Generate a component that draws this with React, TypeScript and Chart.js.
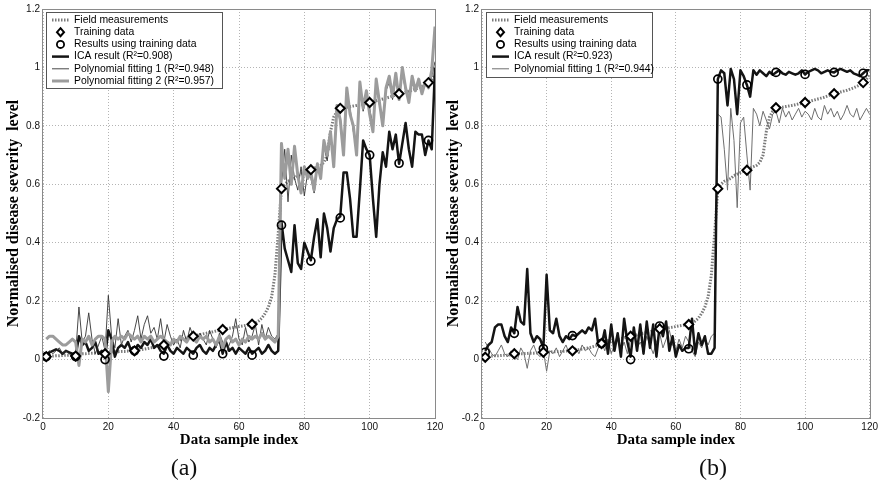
import React, { useEffect, useRef } from 'react';
import Chart from 'chart.js/auto';

// ---------- data ----------
const xTickValues = [0, 20, 40, 60, 80, 100, 120];
const yTickValues = [-0.2, 0, 0.2, 0.4, 0.6, 0.8, 1, 1.2];

const trainingIndex = [1, 10, 19, 28, 37, 46, 55, 64, 73, 82, 91, 100, 109, 118];

const fieldMeasurements = [
  0.010, 0.011, 0.012, 0.013, 0.013, 0.014, 0.015, 0.015, 0.016, 0.018,
  0.019, 0.020, 0.020, 0.021, 0.022, 0.022, 0.023, 0.024, 0.025, 0.026,
  0.026, 0.027, 0.027, 0.028, 0.028, 0.029, 0.029, 0.030, 0.032, 0.034,
  0.036, 0.038, 0.040, 0.043, 0.046, 0.050, 0.053, 0.056, 0.059, 0.062,
  0.065, 0.068, 0.071, 0.074, 0.077, 0.080, 0.083, 0.085, 0.088, 0.090,
  0.093, 0.095, 0.098, 0.100, 0.103, 0.105, 0.107, 0.109, 0.111, 0.113,
  0.115, 0.117, 0.119, 0.121, 0.125, 0.132, 0.142, 0.158, 0.180, 0.215,
  0.290, 0.430, 0.585, 0.600, 0.610, 0.615, 0.620, 0.630, 0.635, 0.640,
  0.645, 0.650, 0.655, 0.660, 0.665, 0.675, 0.700, 0.780, 0.830, 0.850,
  0.860, 0.862, 0.864, 0.866, 0.868, 0.870, 0.872, 0.875, 0.877, 0.880,
  0.883, 0.886, 0.889, 0.892, 0.895, 0.898, 0.902, 0.906, 0.910, 0.913,
  0.916, 0.919, 0.922, 0.926, 0.930, 0.935, 0.940, 0.948, 0.960, 0.975,
];

// (a)
const icaA = [
  0.010, 0.025, 0.030, 0.035, 0.030, 0.020, 0.030, 0.025, 0.020, 0.010,
  0.080, 0.050, 0.060, 0.030, 0.040, 0.060, 0.020, 0.030, 0.010, 0.100,
  0.070, 0.010, 0.040, 0.050, 0.040, 0.060, 0.030, 0.030, 0.050, 0.040,
  0.060, 0.050, 0.070, 0.040, 0.050, 0.030, 0.020, 0.050, 0.030, 0.020,
  0.040, 0.030, 0.020, 0.040, 0.030, 0.020, 0.040, 0.050, 0.030, 0.020,
  0.040, 0.030, 0.050, 0.070, 0.020, 0.060, 0.030, 0.040, 0.020, 0.040,
  0.030, 0.020, 0.040, 0.020, 0.030, 0.040, 0.020, 0.030, 0.050, 0.030,
  0.020, 0.030, 0.470, 0.380, 0.340, 0.300, 0.460, 0.330, 0.310, 0.400,
  0.370, 0.340, 0.420, 0.480, 0.350, 0.500, 0.450, 0.370, 0.450, 0.480,
  0.490, 0.640, 0.640, 0.550, 0.420, 0.420, 0.580, 0.750, 0.720, 0.700,
  0.550, 0.420, 0.600, 0.710, 0.660, 0.780, 0.720, 0.770, 0.670, 0.740,
  0.810, 0.720, 0.660, 0.780, 0.770, 0.770, 0.700, 0.750, 0.720, 1.000,
];
const poly1A = [
  0.020, 0.030, 0.020, 0.030, 0.040, 0.020, 0.030, 0.020, 0.010, 0.020,
  0.180, 0.060, 0.080, 0.160, 0.070, 0.020, 0.050, 0.080, 0.030, 0.220,
  0.080, 0.040, 0.140, 0.050, 0.080, 0.100, 0.060, 0.100, 0.150, 0.070,
  0.120, 0.150, 0.090, 0.110, 0.070, 0.140, 0.060, 0.120, 0.080, 0.050,
  0.070, 0.040, 0.100, 0.060, 0.110, 0.080, 0.060, 0.090, 0.070, 0.050,
  0.100, 0.070, 0.040, 0.090, 0.060, 0.020, 0.050, 0.080, 0.140, 0.070,
  0.050, 0.110, 0.060, 0.080, 0.120, 0.050, 0.120, 0.070, 0.110, 0.080,
  0.070, 0.090, 0.600, 0.720, 0.540, 0.700, 0.620, 0.580, 0.660, 0.560,
  0.640, 0.620, 0.570, 0.660, 0.630, 0.730, 0.680, 0.760, 0.700, 0.850,
  0.830, 0.720, 0.900, 0.860, 0.780, 0.720, 0.920, 0.850, 0.900, 0.860,
  0.800, 0.940, 0.870, 0.820, 0.920, 0.950, 0.890, 0.960, 0.900, 0.980,
  0.920, 0.890, 0.950, 0.930, 0.940, 0.920, 0.940, 0.930, 0.970, 1.020,
];
const poly2A = [
  0.070, 0.080, 0.080, 0.070, 0.060, 0.050, 0.050, 0.060, 0.070, 0.060,
  -0.020, 0.070, 0.060, 0.080, 0.050, 0.070, 0.080, 0.080, 0.070, -0.110,
  0.060, 0.080, 0.070, 0.080, 0.070, 0.090, 0.080, 0.070, 0.080, 0.060,
  0.080, 0.070, 0.080, 0.060, 0.070, 0.080, 0.070, 0.060, 0.050, 0.070,
  0.060, 0.080, 0.070, 0.060, 0.080, 0.070, 0.060, 0.080, 0.070, 0.080,
  0.060, 0.070, 0.050, 0.080, 0.040, 0.070, 0.080, 0.060, 0.070, 0.050,
  0.070, 0.060, 0.080, 0.070, 0.080, 0.070, 0.090, 0.070, 0.080, 0.070,
  0.060, 0.080, 0.740, 0.620, 0.720, 0.600, 0.730, 0.630, 0.570, 0.660,
  0.620, 0.640, 0.580, 0.670, 0.620, 0.750, 0.700, 0.780, 0.660, 0.870,
  0.820, 0.700, 0.930, 0.840, 0.800, 0.700, 0.950, 0.860, 0.920, 0.840,
  0.780, 0.960, 0.880, 0.800, 0.930, 0.970, 0.900, 0.980, 0.890, 1.000,
  0.930, 0.880, 0.970, 0.920, 0.960, 0.910, 0.950, 0.930, 0.990, 1.140,
];
const trainingA = [0.010, 0.012, 0.020, 0.030, 0.050, 0.080, 0.103, 0.121, 0.585, 0.650, 0.860, 0.880, 0.910, 0.948];
const resultsA = [0.010, 0.010, 0.000, 0.030, 0.012, 0.015, 0.020, 0.015, 0.460, 0.337, 0.485, 0.700, 0.672, 0.750];

// (b)
const icaB = [
  0.030, 0.050, 0.060, 0.110, 0.120, 0.120, 0.080, 0.060, 0.110, 0.090,
  0.180, 0.130, 0.120, 0.310, 0.090, 0.060, 0.080, 0.070, 0.040, 0.290,
  0.100, 0.090, 0.140, 0.080, 0.060, 0.080, 0.070, 0.085, 0.080, 0.090,
  0.100, 0.090, 0.110, 0.100, 0.140, 0.050, 0.050, 0.100, 0.020, 0.120,
  0.030, 0.090, 0.010, 0.140, 0.060, 0.010, 0.110, 0.030, 0.120, 0.020,
  0.130, 0.040, 0.120, 0.010, 0.120, 0.080, 0.130, 0.030, 0.080, 0.010,
  0.050, 0.030, 0.040, 0.040, 0.140, 0.020, 0.090, 0.050, 0.080, 0.020,
  0.020, 0.040, 0.960, 0.990, 0.980, 0.870, 0.995, 0.960, 0.840, 0.990,
  0.970, 0.940, 0.900, 0.990, 0.975, 0.990, 0.980, 0.970, 0.985, 0.975,
  0.983, 0.990, 0.980, 0.975, 0.985, 0.980, 0.975, 0.980, 0.990, 0.976,
  0.985, 0.990, 0.995, 0.990, 0.980, 0.985, 0.990, 0.985, 0.983, 0.990,
  0.995, 0.990, 0.985, 0.990, 0.980, 0.975, 0.970, 0.980, 0.990, 0.990,
];
const poly1B = [
  0.060, 0.040, 0.020, 0.010, 0.030, 0.050, 0.020, 0.010, 0.030, 0.010,
  0.000, 0.040, 0.020, -0.030, 0.030, 0.050, 0.020, 0.010, 0.030, -0.040,
  0.030, 0.020, 0.040, 0.010, 0.030, 0.050, 0.020, 0.030, 0.040, 0.020,
  0.050, 0.030, 0.040, 0.020, 0.010, 0.040, 0.060, 0.030, 0.070, 0.020,
  0.050, 0.080, 0.030, 0.060, 0.020, 0.070, 0.090, 0.040, 0.060, 0.030,
  0.080, 0.050, 0.020, 0.060, 0.090, 0.040, 0.070, 0.100, 0.050, 0.030,
  0.070, 0.040, 0.080, 0.060, 0.030, 0.010, 0.060, 0.040, 0.070, 0.050,
  0.080, 0.090, 0.840, 0.830, 0.720, 0.580, 0.860, 0.750, 0.520, 0.810,
  0.830, 0.700, 0.580, 0.860, 0.840, 0.800, 0.850, 0.820, 0.790, 0.840,
  0.850, 0.810, 0.860, 0.830, 0.850, 0.820, 0.840, 0.860, 0.830, 0.850,
  0.840, 0.820, 0.860, 0.830, 0.820, 0.870, 0.840, 0.860, 0.830, 0.850,
  0.820, 0.840, 0.870, 0.840, 0.830, 0.860, 0.820, 0.840, 0.860, 0.840,
];
const trainingB = [0.008, 0.020, 0.025, 0.030, 0.055, 0.080, 0.105, 0.120, 0.585, 0.648, 0.862, 0.880, 0.910, 0.948];
const resultsB = [0.025, 0.090, 0.037, 0.082, 0.055, 0.000, 0.115, 0.037, 0.960, 0.940, 0.983, 0.976, 0.983, 0.980];

const legendLabelsA = [
  'Field measurements',
  'Training data',
  'Results using training data',
  'ICA result (R\u00B2=0.908)',
  'Polynomial fitting 1 (R\u00B2=0.948)',
  'Polynomial fitting 2 (R\u00B2=0.957)',
];
const legendLabelsB = [
  'Field measurements',
  'Training data',
  'Results using training data',
  'ICA result (R\u00B2=0.923)',
  'Polynomial fitting 1 (R\u00B2=0.944)',
];
const xAxisTitle = 'Data sample index';
const yAxisTitle = 'Normalised disease severity  level';

// ---------- styles ----------
const SANS = '"Liberation Sans", Arial, Helvetica, sans-serif';
const SERIF = '"Liberation Serif", "Times New Roman", serif';
const W = 881;
const H = 485;

const styleField = { kind: 'line', color: '#7a7a7a', width: 3, dash: [1.5, 1.5] };
const styleICA = { kind: 'line', color: '#141414', width: 2.5 };
const stylePoly1A = { kind: 'line', color: '#333333', width: 0.9 };
const stylePoly1B = { kind: 'line', color: '#6e6e6e', width: 1 };
const stylePoly2 = { kind: 'line', color: '#9c9c9c', width: 3 };
const styleDiamond = { kind: 'diamond' };
const styleCircle = { kind: 'circle' };

const toSeries = (vals: number[]) => vals.map((v, i) => ({ x: i + 1, y: v }));
const toTraining = (vals: number[]) => vals.map((v, i) => ({ x: trainingIndex[i], y: v }));

const framePlugin = {
  id: 'frame',
  beforeDatasetsDraw(chart: any) {
    const { ctx, chartArea: a } = chart;
    ctx.save();
    ctx.strokeStyle = '#8a8a8a';
    ctx.lineWidth = 1;
    ctx.strokeRect(Math.round(a.left) - 0.5, Math.round(a.top) + 0.5, Math.round(a.right - a.left) + 1, Math.round(a.bottom - a.top));
    ctx.restore();
  },
};

const boxLegendPlugin = {
  id: 'boxLegend',
  afterDraw(chart: any, _args: any, opts: any) {
    if (!opts || !opts.items) return;
    const { ctx } = chart;
    const { left, top, width, height, rowTop, rowGap, items } = opts;
    ctx.save();
    ctx.fillStyle = '#ffffff';
    ctx.fillRect(left, top, width, height);
    ctx.strokeStyle = '#555555';
    ctx.lineWidth = 1;
    ctx.strokeRect(left + 0.5, top + 0.5, width, height);
    items.forEach((it: any, i: number) => {
      const y = rowTop + i * rowGap;
      const x0 = left + 6;
      const x1 = left + 23;
      const xm = (x0 + x1) / 2;
      if (it.style.kind === 'line') {
        ctx.setLineDash(it.style.dash || []);
        ctx.strokeStyle = it.style.color;
        ctx.lineWidth = it.style.width;
        ctx.beginPath();
        ctx.moveTo(x0, y);
        ctx.lineTo(x1, y);
        ctx.stroke();
        ctx.setLineDash([]);
      } else if (it.style.kind === 'diamond') {
        ctx.strokeStyle = '#000';
        ctx.fillStyle = '#fff';
        ctx.lineWidth = 2;
        ctx.beginPath();
        ctx.moveTo(xm, y - 4);
        ctx.lineTo(xm + 3.5, y);
        ctx.lineTo(xm, y + 4);
        ctx.lineTo(xm - 3.5, y);
        ctx.closePath();
        ctx.fill();
        ctx.stroke();
      } else {
        ctx.strokeStyle = '#000';
        ctx.lineWidth = 1.8;
        ctx.beginPath();
        ctx.arc(xm, y, 3.6, 0, Math.PI * 2);
        ctx.stroke();
      }
      ctx.fillStyle = '#000';
      ctx.font = `10.4px ${SANS}`;
      ctx.textBaseline = 'middle';
      ctx.textAlign = 'left';
      ctx.fillText(it.label, left + 28, y);
    });
    ctx.restore();
  },
};

function lineDataset(label: string, vals: number[], style: any, order: number) {
  return {
    label,
    data: toSeries(vals),
    borderColor: style.color,
    borderWidth: style.width,
    borderDash: style.dash || [],
    pointRadius: 0,
    tension: 0,
    fill: false,
    order,
    borderJoinStyle: 'round',
  };
}

function markerDataset(label: string, vals: number[], kind: 'diamond' | 'circle', order: number) {
  return {
    label,
    data: toTraining(vals),
    showLine: false,
    pointStyle: kind === 'diamond' ? 'rectRot' : 'circle',
    pointRadius: kind === 'diamond' ? 4.5 : 4,
    pointBorderWidth: kind === 'diamond' ? 2 : 1.7,
    pointBorderColor: '#000',
    pointBackgroundColor: kind === 'diamond' ? '#ffffff' : 'rgba(0,0,0,0)',
    order,
  };
}

function buildConfig(panel: any) {
  return {
    type: 'line',
    data: { datasets: panel.datasets },
    plugins: [framePlugin, boxLegendPlugin],
    options: {
      animation: false,
      responsive: false,
      devicePixelRatio: 1,
      events: [],
      layout: { padding: { left: panel.padLeft, right: panel.padRight, top: 7, bottom: 27 } },
      plugins: {
        legend: { display: false },
        tooltip: { enabled: false },
        boxLegend: panel.legend,
      },
      scales: {
        x: {
          type: 'linear',
          min: 0,
          max: 120,
          afterBuildTicks: (axis: any) => {
            axis.ticks = xTickValues.map((v) => ({ value: v }));
          },
          afterFit: (scale: any) => {
            scale.height = 40;
          },
          ticks: {
            padding: 3,
            color: '#111',
            font: { family: SANS, size: 10 },
            maxRotation: 0,
            callback: (v: any) => String(v),
          },
          grid: { color: '#b4b4b4', lineWidth: 1, drawTicks: false },
          border: { display: false, dash: [1, 2] },
          title: {
            display: true,
            text: xAxisTitle,
            color: '#000',
            font: { family: SERIF, size: 15, weight: 'bold' },
            padding: { top: 0, bottom: 9 },
          },
        },
        y: {
          type: 'linear',
          min: -0.2,
          max: 1.2,
          afterBuildTicks: (axis: any) => {
            axis.ticks = yTickValues.map((v) => ({ value: v }));
          },
          afterFit: (scale: any) => {
            scale.width = panel.yWidth;
          },
          ticks: {
            padding: 3,
            color: '#111',
            font: { family: SANS, size: 10 },
            callback: (v: any) => String(Math.round(Number(v) * 10) / 10),
          },
          grid: { color: '#b4b4b4', lineWidth: 1, drawTicks: false },
          border: { display: false, dash: [1, 2] },
          title: {
            display: true,
            text: yAxisTitle,
            color: '#000',
            font: { family: SERIF, size: 16, weight: 'bold' },
            padding: { top: 4, bottom: 0 },
          },
        },
      },
    },
  };
}

const panelA = {
  padLeft: 0,
  padRight: W - 435,
  yWidth: 43,
  datasets: [
    markerDataset(legendLabelsA[1], trainingA, 'diamond', 0),
    markerDataset(legendLabelsA[2], resultsA, 'circle', 0),
    lineDataset(legendLabelsA[5], poly2A, stylePoly2, 1),
    lineDataset(legendLabelsA[4], poly1A, stylePoly1A, 2),
    lineDataset(legendLabelsA[3], icaA, styleICA, 3),
    lineDataset(legendLabelsA[0], fieldMeasurements, styleField, 4),
  ],
  legend: {
    left: 46,
    top: 12,
    width: 176,
    height: 76,
    rowTop: 20,
    rowGap: 12.2,
    items: [
      { label: legendLabelsA[0], style: styleField },
      { label: legendLabelsA[1], style: styleDiamond },
      { label: legendLabelsA[2], style: styleCircle },
      { label: legendLabelsA[3], style: styleICA },
      { label: legendLabelsA[4], style: stylePoly1A },
      { label: legendLabelsA[5], style: stylePoly2 },
    ],
  },
};

const panelB = {
  padLeft: 440,
  padRight: W - 872,
  yWidth: 42,
  datasets: [
    markerDataset(legendLabelsB[1], trainingB, 'diamond', 0),
    markerDataset(legendLabelsB[2], resultsB, 'circle', 0),
    lineDataset(legendLabelsB[3], icaB, styleICA, 1),
    lineDataset(legendLabelsB[4], poly1B, stylePoly1B, 2),
    lineDataset(legendLabelsB[0], fieldMeasurements, styleField, 3),
  ],
  legend: {
    left: 486,
    top: 12,
    width: 166,
    height: 65,
    rowTop: 20,
    rowGap: 12.2,
    items: [
      { label: legendLabelsB[0], style: styleField },
      { label: legendLabelsB[1], style: styleDiamond },
      { label: legendLabelsB[2], style: styleCircle },
      { label: legendLabelsB[3], style: styleICA },
      { label: legendLabelsB[4], style: stylePoly1B },
    ],
  },
};

function Panel({ panel }: { panel: any }) {
  const ref = useRef<HTMLCanvasElement | null>(null);
  useEffect(() => {
    if (!ref.current) return;
    const chart = new Chart(ref.current, buildConfig(panel) as any);
    return () => chart.destroy();
  }, [panel]);
  return (
    <canvas
      ref={ref}
      width={W}
      height={H}
      style={{ position: 'absolute', left: 0, top: 0, width: W, height: H }}
    />
  );
}

const captionStyle: React.CSSProperties = {
  position: 'absolute',
  top: 467,
  transform: 'translate(-50%, -50%)',
  fontFamily: SERIF,
  fontSize: 24,
  lineHeight: 1,
  color: '#111',
  whiteSpace: 'nowrap',
};

export default function App() {
  return (
    <div style={{ position: 'fixed', left: 0, top: 0, width: W, height: H, background: '#fff', overflow: 'hidden' }}>
      <Panel panel={panelA} />
      <Panel panel={panelB} />
      <div style={{ ...captionStyle, left: 184 }}>(a)</div>
      <div style={{ ...captionStyle, left: 713 }}>(b)</div>
    </div>
  );
}
